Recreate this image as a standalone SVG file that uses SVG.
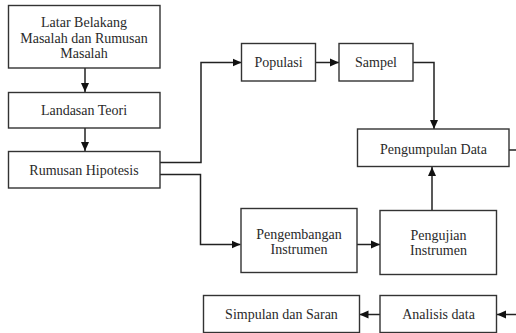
<svg xmlns="http://www.w3.org/2000/svg" width="516" height="333" viewBox="0 0 516 333">
<style>
.box{fill:#fff;stroke:#333;stroke-width:1.4}
.t{font-family:"Liberation Serif","Times New Roman",serif;font-size:14px;fill:#2a2a2a;text-anchor:middle}
.c{fill:none;stroke:#222;stroke-width:1.5}
</style>
<defs>
<marker id="ah" markerUnits="userSpaceOnUse" markerWidth="10" markerHeight="10" refX="9" refY="5" orient="auto">
<path d="M0,1 L9,5 L0,9 Z" fill="#111"/>
</marker>
</defs>
<rect width="516" height="333" fill="#fff"/>
<g id="connectors">
<line class="c" x1="85" y1="68" x2="85" y2="92" marker-end="url(#ah)"/>
<line class="c" x1="85" y1="128" x2="85" y2="151" marker-end="url(#ah)"/>
<polyline class="c" points="160,162.5 201,162.5 201,62.5 241.5,62.5" marker-end="url(#ah)"/>
<line class="c" x1="316" y1="62.5" x2="339" y2="62.5" marker-end="url(#ah)"/>
<polyline class="c" points="413,62.5 434,62.5 434,129" marker-end="url(#ah)"/>
<line class="c" x1="509" y1="150" x2="516" y2="150"/>
<polyline class="c" points="160,174.5 200.5,174.5 200.5,244.5 240.5,244.5" marker-end="url(#ah)"/>
<line class="c" x1="357" y1="244.5" x2="380" y2="244.5" marker-end="url(#ah)"/>
<line class="c" x1="432" y1="210.5" x2="432" y2="167" marker-end="url(#ah)"/>
<line class="c" x1="516" y1="314.5" x2="497" y2="314.5" marker-end="url(#ah)"/>
<line class="c" x1="380" y1="314.5" x2="359.5" y2="314.5" marker-end="url(#ah)"/>
</g>
<g id="latar">
<rect class="box" x="8.5" y="5.5" width="151.5" height="62.5"/>
<text class="t" x="84" y="27">Latar Belakang</text>
<text class="t" x="84" y="42.5">Masalah dan Rumusan</text>
<text class="t" x="84" y="58">Masalah</text>
</g>
<g id="landasan">
<rect class="box" x="8.5" y="92.5" width="151.5" height="35.5"/>
<text class="t" x="84" y="115">Landasan Teori</text>
</g>
<g id="rumusan">
<rect class="box" x="8.5" y="151.5" width="151.5" height="36.5"/>
<text class="t" x="84" y="175">Rumusan Hipotesis</text>
</g>
<g id="populasi">
<rect class="box" x="241.5" y="43.5" width="74" height="37.5"/>
<text class="t" x="278.5" y="67">Populasi</text>
</g>
<g id="sampel">
<rect class="box" x="339" y="43.5" width="74" height="37.5"/>
<text class="t" x="376" y="67">Sampel</text>
</g>
<g id="pengumpulan">
<rect class="box" x="357.5" y="129" width="151.5" height="37.5"/>
<text class="t" x="433.5" y="154">Pengumpulan Data</text>
</g>
<g id="pengembangan">
<rect class="box" x="241" y="208.5" width="116" height="64"/>
<text class="t" x="299" y="238.5">Pengembangan</text>
<text class="t" x="299" y="254">Instrumen</text>
</g>
<g id="pengujian">
<rect class="box" x="380" y="210.5" width="116.5" height="64"/>
<text class="t" x="438.5" y="239.5">Pengujian</text>
<text class="t" x="438.5" y="255">Instrumen</text>
</g>
<g id="simpulan">
<rect class="box" x="203.5" y="295.5" width="156" height="37"/>
<text class="t" x="281.5" y="319">Simpulan dan Saran</text>
</g>
<g id="analisis">
<rect class="box" x="380" y="295.5" width="116.5" height="37"/>
<text class="t" x="438.5" y="319">Analisis data</text>
</g>
</svg>
